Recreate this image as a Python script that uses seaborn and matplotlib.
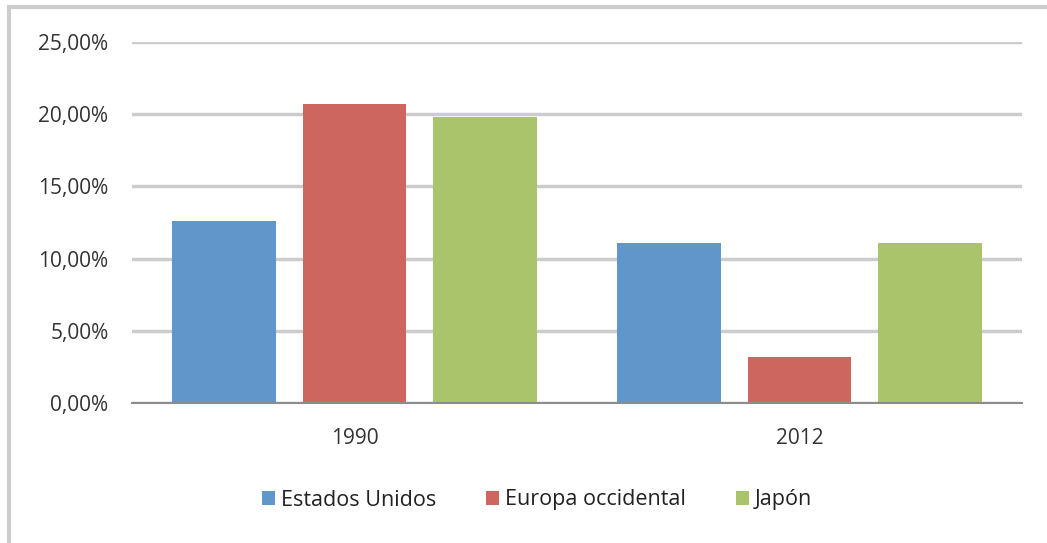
import matplotlib
matplotlib.use("Agg")
import matplotlib.pyplot as plt
import seaborn as sns
import pandas as pd
from matplotlib.patches import Rectangle, Patch
from matplotlib.ticker import FuncFormatter, MultipleLocator

years = ["1990", "2012"]
regions = ["Estados Unidos", "Europa occidental", "Japón"]
estados_unidos = [12.6, 11.1]
europa_occidental = [20.7, 3.2]
japon = [19.8, 11.1]
colors = ["#6096CA", "#CC665F", "#AAC46C"]

rows = []
for reg, vals in zip(regions, [estados_unidos, europa_occidental, japon]):
    for y, v in zip(years, vals):
        rows.append({"year": y, "region": reg, "value": v})
df = pd.DataFrame(rows)

sns.set_theme(style="white")
plt.rcParams["font.family"] = ["Open Sans", "DejaVu Sans"]

fig = plt.figure(figsize=(10.47, 5.43), dpi=100)
ax = fig.add_axes([132/1047, 1-403/543, (1022-132)/1047, (403-42)/543])

sns.barplot(data=df, x="year", y="value", hue="region", order=years,
            hue_order=regions, palette=colors, width=0.883, gap=0.206,
            saturation=1, ax=ax, legend=False, linewidth=0, zorder=3)

ax.set_ylim(0, 25)
ax.set_xlim(-0.5, 1.5)
ax.yaxis.set_major_locator(MultipleLocator(5))
ax.yaxis.set_major_formatter(FuncFormatter(lambda v, p: f"{v:.2f}".replace(".", ",") + "%"))
ax.grid(axis="y", color="#cccccc", linewidth=2.5, zorder=0)
ax.grid(axis="x", visible=False)
ax.set_axisbelow(True)
for s in ["top", "right", "left"]:
    ax.spines[s].set_visible(False)
ax.spines["bottom"].set_color("#8c8c8c")
ax.spines["bottom"].set_linewidth(1.5)
ax.spines["bottom"].set_zorder(4)
ax.set_xlabel("")
ax.set_ylabel("")
ax.tick_params(axis="y", length=0, pad=17, labelsize=15, labelcolor="#333333")
ax.tick_params(axis="x", length=0, pad=18, labelsize=15, labelcolor="#333333")

handles = [Patch(facecolor=c, edgecolor="none") for c in colors]
fig.legend(handles, regions, loc="center", bbox_to_anchor=(537/1047, 1-500/543),
           ncol=3, frameon=False, fontsize=15.5, handlelength=0.6, handleheight=0.6,
           handletextpad=0.3, columnspacing=2.3, labelcolor="#222222")

fig.patches.append(Rectangle((9/1047, -0.1), 1.2, 1 - 7/543 + 0.1, transform=fig.transFigure,
                             fill=False, edgecolor="#cccccc", linewidth=3, zorder=10))

fig.savefig("out.png", dpi=100)
